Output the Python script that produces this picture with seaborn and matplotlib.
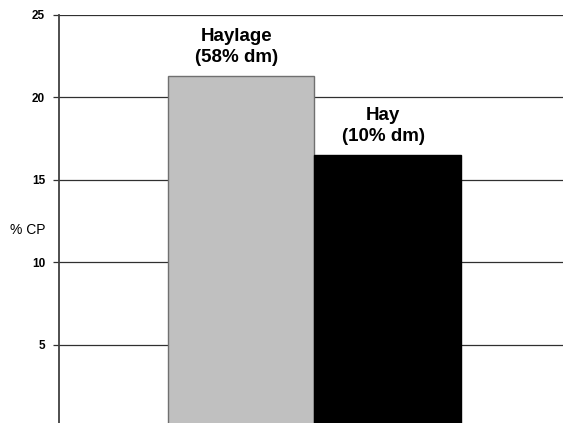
import matplotlib
matplotlib.use("Agg")
import matplotlib.pyplot as plt
import seaborn as sns
import pandas as pd

# values
feeds = ["Haylage", "Hay"]
dry_matter = ["58% dm", "10% dm"]
crude_protein = [21.3, 16.5]
bar_colors = ["#c0c0c0", "#000000"]
y_ticks = [0, 5, 10, 15, 20, 25]

df = pd.DataFrame({"feed": feeds, "cp": crude_protein})

sns.set_theme(style="white")
plt.rcParams["font.family"] = ["Liberation Sans", "DejaVu Sans"]
plt.rcParams["text.color"] = "black"
plt.rcParams["ytick.color"] = "black"
plt.rcParams["axes.labelcolor"] = "black"

fig = plt.figure(figsize=(5.63, 4.23), dpi=100)
# the original chart is cropped: the zero line sits just below the picture
ax = fig.add_axes([59 / 563, -4 / 423, 504 / 563, 412 / 423])

ax.set_axisbelow(True)
ax.yaxis.grid(True, color="#303030", linewidth=0.9)

sns.barplot(data=df, x="feed", y="cp", hue="feed", palette=bar_colors,
            width=1.0, legend=False, saturation=1, ax=ax)
edges = ["#707070", "#000000"]
for patch, ec in zip(ax.patches, edges):
    patch.set_edgecolor(ec)
    patch.set_linewidth(1.0)

for i, (name, dm, val) in enumerate(zip(feeds, dry_matter, crude_protein)):
    ax.annotate(f"{name}\n({dm})", xy=(i, val), xytext=(-3, 7.5),
                textcoords="offset points", ha="center", va="bottom",
                fontsize=13.5, fontweight="bold", linespacing=1.3)

ax.set_xlim(-1.242, 2.198)
ax.set_ylim(0, 25)
ax.set_yticks(y_ticks)
ax.set_yticklabels([str(t) for t in y_ticks], fontsize=8.5, fontweight="bold")
ax.set_xticks([])
ax.set_xlabel("")
ax.tick_params(axis="y", left=True, length=4, width=0.9, color="#303030", pad=6)

ax.set_ylabel("% CP", rotation=0, fontsize=10, ha="center", va="center")
ax.yaxis.set_label_coords(-0.062, 0.478)

for side in ["top", "right", "bottom"]:
    ax.spines[side].set_visible(False)
ax.spines["left"].set_color("#404040")
ax.spines["left"].set_linewidth(1.3)

fig.savefig("out.png", dpi=100)
